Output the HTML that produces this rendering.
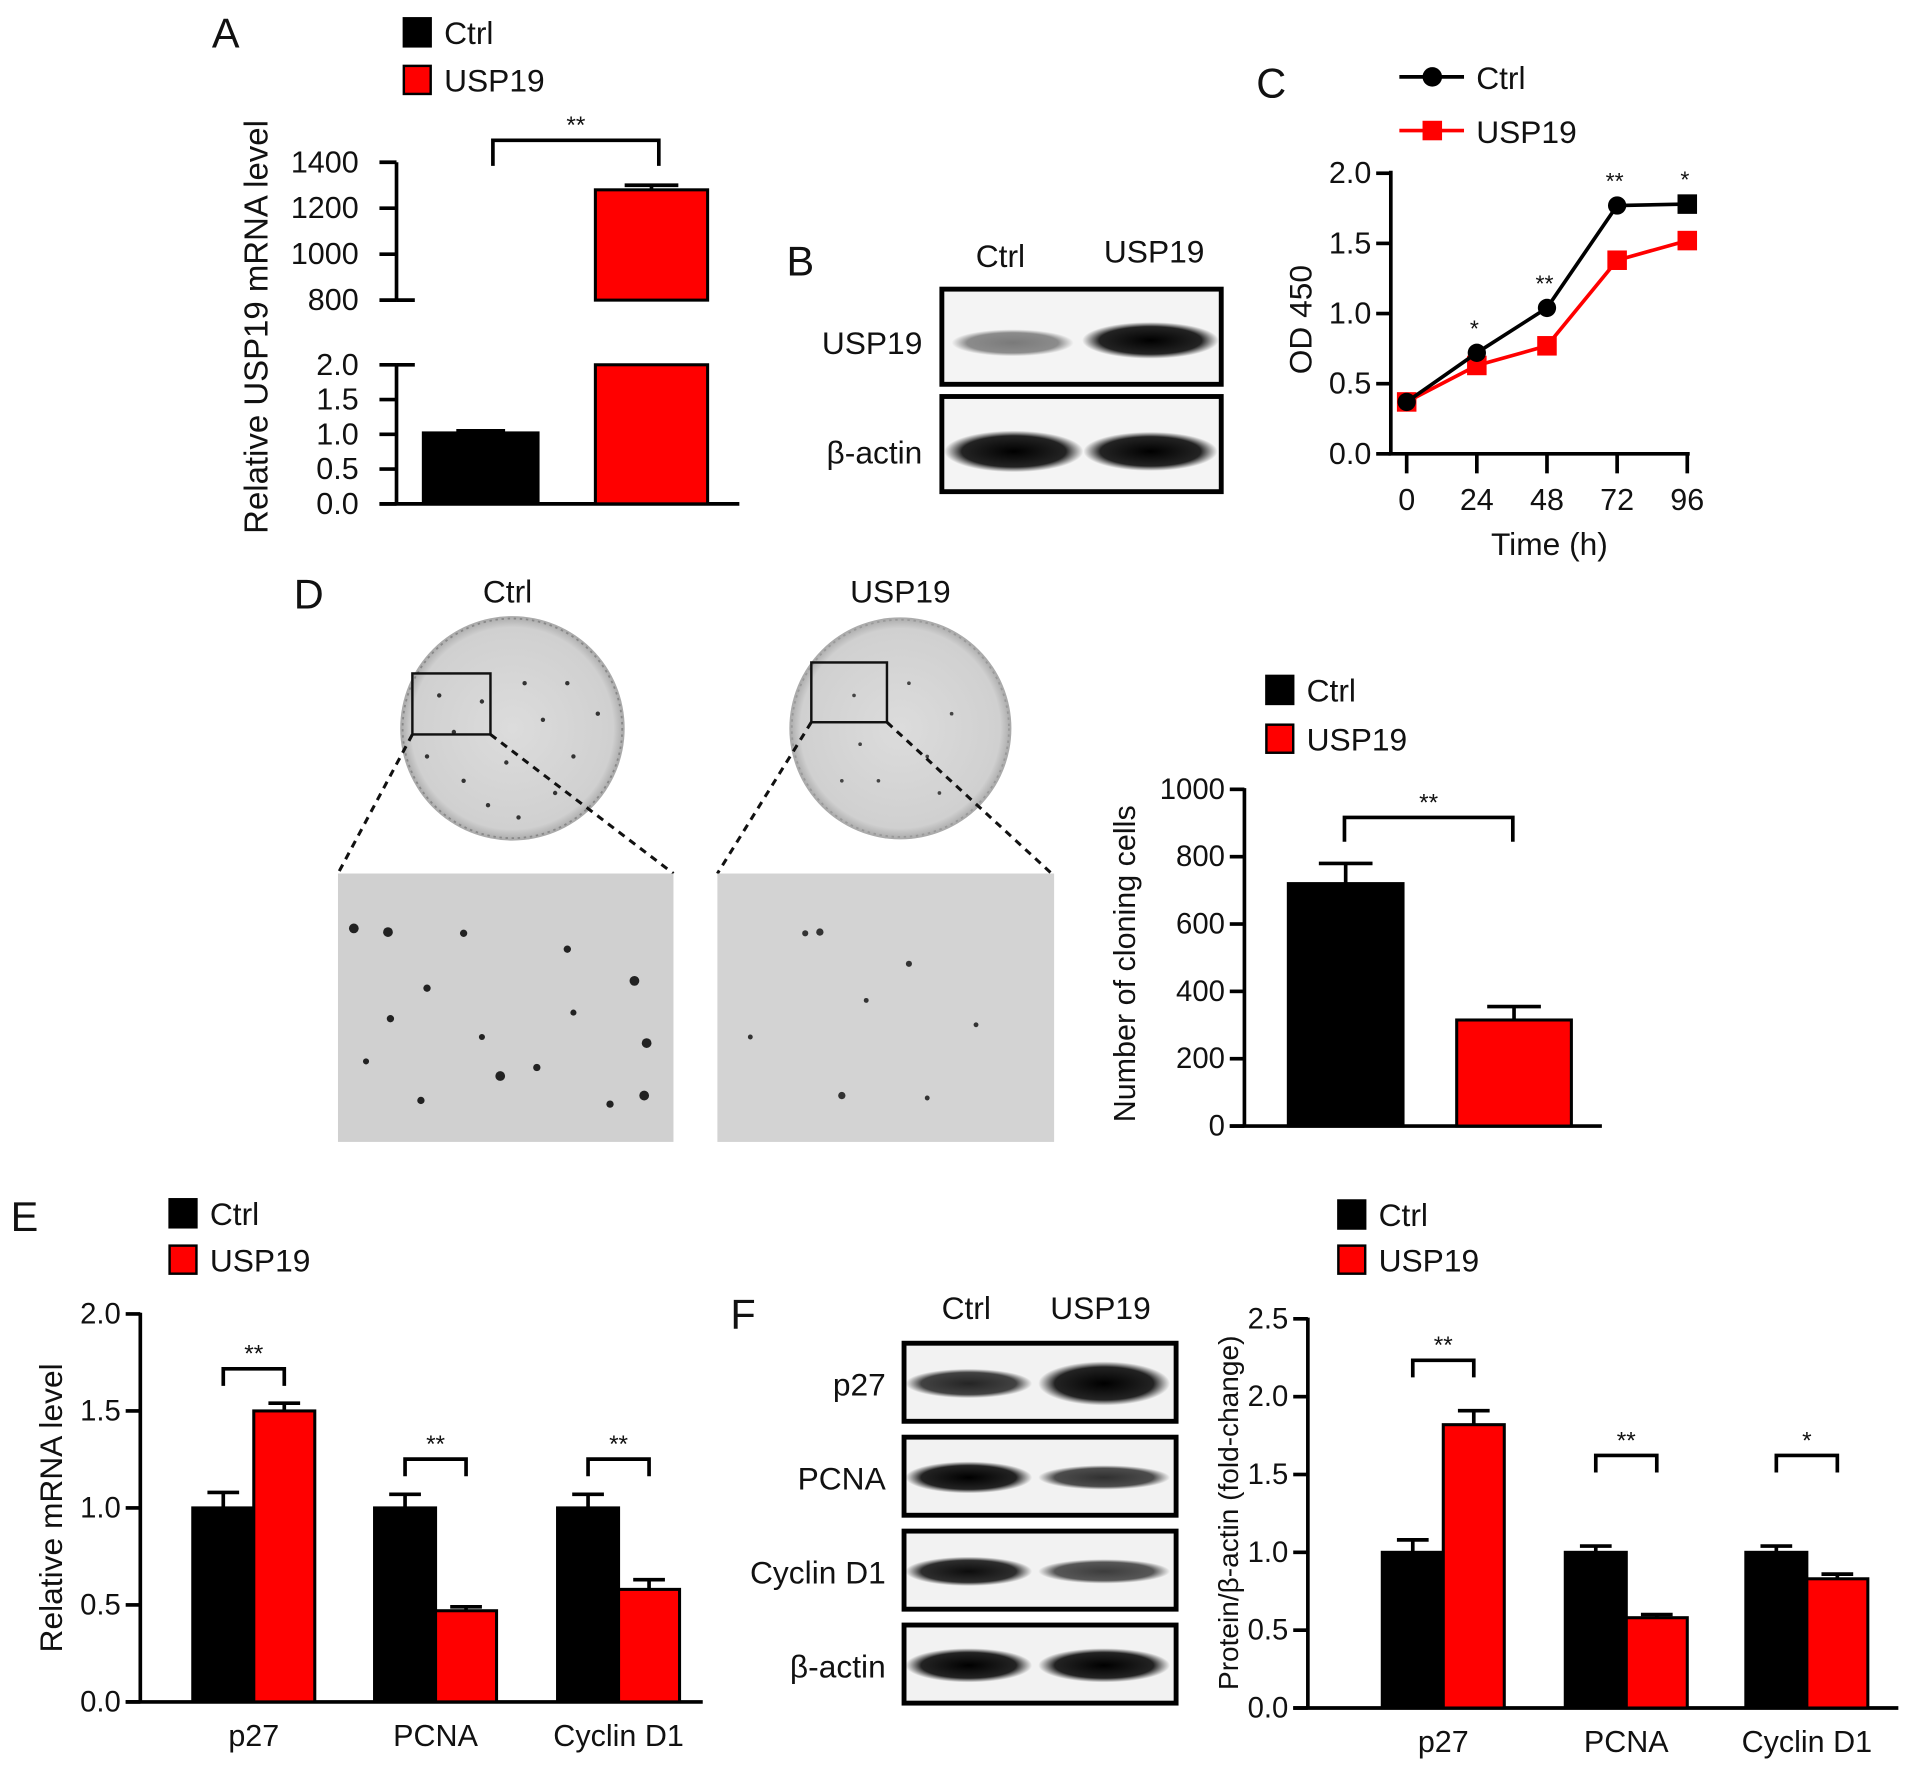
<!DOCTYPE html>
<html><head><meta charset="utf-8"><style>
html,body{margin:0;padding:0;background:#fff}
svg{display:block}
text{font-family:"Liberation Sans",Arial,sans-serif;fill:#111}
</style></head><body>
<svg id="fig" width="1913" height="1769" viewBox="0 0 1568 1450">
<defs>
<radialGradient id="band" cx="50%" cy="50%" r="50%"><stop offset="0" stop-color="#000" stop-opacity="1"/><stop offset="0.75" stop-color="#111" stop-opacity="0.92"/><stop offset="1" stop-color="#222" stop-opacity="0"/></radialGradient>
<radialGradient id="plate" cx="50%" cy="50%" r="50%"><stop offset="0" stop-color="#dcdcdc"/><stop offset="0.9" stop-color="#d0d0d0"/><stop offset="1" stop-color="#a8a8a8"/></radialGradient>
</defs>
<g id="root"></g>
</svg>
<script>
// ---- Panel A data ----
const aCategories = ["Ctrl", "USP19"];
const aValues = [1.02, 1280];
const aErrors = [1.05, 1300];
const aLowTicks = [0, 0.5, 1.0, 1.5, 2.0];
const aHighTicks = [800, 1000, 1200, 1400];
// ---- Panel C data ----
const cTimes = [0, 24, 48, 72, 96];
const cCtrl = [0.37, 0.72, 1.04, 1.77, 1.78];
const cUsp = [0.37, 0.63, 0.77, 1.38, 1.52];
const cStars = ["", "*", "**", "**", "*"];
const cYTicks = [0, 0.5, 1.0, 1.5, 2.0];
// ---- Panel D data ----
const dCategories = ["Ctrl", "USP19"];
const dValues = [720, 315];
const dErrors = [780, 355];
const dTicks = [0, 200, 400, 600, 800, 1000];
// ---- Panel E data ----
const eGroups = ["p27", "PCNA", "Cyclin D1"];
const eCtrl = [1.0, 1.0, 1.0];
const eCtrlErr = [1.08, 1.07, 1.07];
const eUsp = [1.5, 0.47, 0.58];
const eUspErr = [1.54, 0.49, 0.63];
const eStars = ["**", "**", "**"];
const eTicks = [0, 0.5, 1.0, 1.5, 2.0];
// ---- Panel F data ----
const fGroups = ["p27", "PCNA", "Cyclin D1"];
const fCtrl = [1.0, 1.0, 1.0];
const fCtrlErr = [1.08, 1.04, 1.04];
const fUsp = [1.82, 0.58, 0.83];
const fUspErr = [1.91, 0.6, 0.86];
const fStars = ["**", "**", "*"];
const fTicks = [0, 0.5, 1.0, 1.5, 2.0, 2.5];

const NS = "http://www.w3.org/2000/svg";
const root = document.getElementById("root");
function el(tag, attrs, parent, txt) {
  const e = document.createElementNS(NS, tag);
  for (const k in attrs) e.setAttribute(k, attrs[k]);
  if (txt !== undefined) e.textContent = txt;
  (parent || root).appendChild(e);
  return e;
}
function grp(name) {
  const g = el("g", {});
  
  
  return g;
}
function txt(g, x, y, s, size, anchor, name, extra) {
  const t = el("text", Object.assign({x: x, y: y, "font-size": size, "text-anchor": anchor || "start", "dominant-baseline": "central"}, extra || {}), g, s);
  
  
  return t;
}
function line(g, x1, y1, x2, y2, w, col) {
  return el("line", {x1: x1, y1: y1, x2: x2, y2: y2, stroke: col || "#000", "stroke-width": w || 3}, g);
}
function legendBox(g, x, y, color, label, size) {
  const r = el("rect", {x: x, y: y, width: 22, height: 23, fill: color, stroke: "#000", "stroke-width": 2}, g);
  
  
  txt(g, x + 33, y + 12, label, size || 26, "start", 'legend-label-' + label.toLowerCase());
}
function bracket(g, x1, x2, y, leg, stars) {
  el("path", {d: `M${x1},${y + leg} V${y} H${x2} V${y + leg}`, fill: "none", stroke: "#000", "stroke-width": 3}, g);
  txt(g, (x1 + x2) / 2, y - 12, stars, 20, "middle", 'significance-stars');
}
function bar(g, x, w, y0, y1, color, name) {
  const r = el("rect", {x: x, y: Math.min(y0, y1), width: w, height: Math.abs(y0 - y1), fill: color, stroke: "#000", "stroke-width": 2.5}, g);
  
  
  return r;
}
function errBar(g, cx, yTop, yVal, half) {
  line(g, cx, yVal, cx, yTop, 3);
  line(g, cx - half, yTop, cx + half, yTop, 3);
}

// ================= Panel A =================
(function () {
  const g = grp("panel-a");
  txt(g, 185, 27, "A", 34, "middle", "panel-label-a");
  legendBox(g, 331, 15, "#000", "Ctrl", 26);
  legendBox(g, 331, 54, "#f00", "USP19", 26);
  const axX = 325;
  const yLow = v => 413 - (v / 2.0) * (413 - 299);
  const yHigh = v => 246 - ((v - 800) / 600) * (246 - 133);
  line(g, axX, 299, axX, 413);
  line(g, axX, 133, axX, 246);
  aLowTicks.forEach(v => { line(g, 311, yLow(v), axX, yLow(v)); txt(g, 294, yLow(v), v.toFixed(1), 25, "end", "y-tick-label"); });
  line(g, axX, 299, 340, 299);
  aHighTicks.forEach(v => { line(g, 311, yHigh(v), axX, yHigh(v)); txt(g, 294, yHigh(v), String(v), 25, "end", "y-tick-label"); });
  line(g, axX, 246, 340, 246);
  line(g, 311, 413, 606, 413);
  txt(g, 210, 268, "Relative USP19 mRNA level", 27, "middle", "y-axis-title", {transform: "rotate(-90 210 268)"});
  bar(g, 347, 94, 413, yLow(aValues[0]), "#000", "bar-ctrl");
  errBar(g, 394, yLow(aErrors[0]), yLow(aValues[0]), 20);
  bar(g, 488, 92, 413, 299, "#f00", "bar-usp19-lower");
  errBar(g, 534, yHigh(aErrors[1]), yHigh(aValues[1]), 22);
  bar(g, 488, 92, 246, yHigh(aValues[1]), "#f00", "bar-usp19-upper");
  bracket(g, 404, 540, 115, 21, "**");
})();

// ================= Panel B =================
(function () {
  const g = grp("panel-b-western-blot");
  txt(g, 656, 214, "B", 34, "middle", "panel-label-b");
  txt(g, 820, 210, "Ctrl", 26, "middle", "lane-label-ctrl");
  txt(g, 946, 206, "USP19", 26, "middle", "lane-label-usp19");
  txt(g, 756, 281, "USP19", 26, "end", "blot-label-usp19");
  txt(g, 756, 371, "β-actin", 26, "end", "blot-label-actin");
  el("rect", {x: 772, y: 237, width: 229, height: 78, fill: "#f4f4f4", stroke: "#000", "stroke-width": 4}, g);
  el("rect", {x: 772, y: 325, width: 229, height: 78, fill: "#f4f4f4", stroke: "#000", "stroke-width": 4}, g);
  el("ellipse", {cx: 830, cy: 281, rx: 50, ry: 11, fill: "url(#band)", opacity: 0.5}, g);
  el("ellipse", {cx: 943, cy: 279, rx: 56, ry: 15, fill: "url(#band)"}, g);
  el("ellipse", {cx: 831, cy: 370, rx: 57, ry: 17, fill: "url(#band)"}, g);
  el("ellipse", {cx: 943, cy: 370, rx: 55, ry: 16, fill: "url(#band)"}, g);
})();

// ================= Panel C =================
(function () {
  const g = grp("panel-c-line-chart");
  txt(g, 1042, 68, "C", 34, "middle", "panel-label-c");
  line(g, 1147, 63, 1200, 63, 3);
  el("circle", {cx: 1174, cy: 63, r: 8, fill: "#000"}, g);
  txt(g, 1210, 64, "Ctrl", 26, "start", "legend-label-ctrl");
  line(g, 1147, 107, 1200, 107, 3, "#f00");
  el("rect", {x: 1166, y: 99, width: 16, height: 16, fill: "#f00"}, g);
  txt(g, 1210, 108, "USP19", 26, "start", "legend-label-usp19");
  const x = t => 1153 + (t / 96) * (1383 - 1153);
  const y = v => 372 - (v / 2) * (372 - 142);
  line(g, 1140, 140, 1140, 372);
  line(g, 1138, 372, 1385, 372);
  cYTicks.forEach(v => { line(g, 1128, y(v), 1140, y(v)); txt(g, 1124, y(v), v.toFixed(1), 25, "end", "y-tick-label"); });
  cTimes.forEach(t => { line(g, x(t), 372, x(t), 388); txt(g, x(t), 410, String(t), 25, "middle", "x-tick-label"); });
  txt(g, 1270, 446, "Time (h)", 26, "middle", "x-axis-title");
  txt(g, 1066, 262, "OD 450", 26, "middle", "y-axis-title", {transform: "rotate(-90 1066 262)"});
  const uPts = cTimes.map((t, i) => x(t) + "," + y(cUsp[i])).join(" ");
  const up = el("polyline", {points: uPts, fill: "none", stroke: "#f00", "stroke-width": 3}, g);
  
  
  cTimes.forEach((t, i) => {
    const m = el("rect", {x: x(t) - 8, y: y(cUsp[i]) - 8, width: 16, height: 16, fill: "#f00"}, g);
    
    
  });
  const cPts = cTimes.map((t, i) => x(t) + "," + y(cCtrl[i])).join(" ");
  const cp = el("polyline", {points: cPts, fill: "none", stroke: "#000", "stroke-width": 3}, g);
  
  
  cTimes.forEach((t, i) => {
    const m = el("circle", {cx: x(t), cy: y(cCtrl[i]), r: 7.5, fill: "#000"}, g);
    
    
    if (cStars[i]) txt(g, x(t) - 2, y(cCtrl[i]) - 20, cStars[i], 19, "middle", "significance-stars");
  });
  el("rect", {x: x(96) - 8, y: y(cCtrl[4]) - 8, width: 16, height: 16, fill: "#000"}, g);
})();

// ================= Panel D images =================
(function () {
  const g = grp("panel-d-colony-images");
  txt(g, 253, 487, "D", 34, "middle", "panel-label-d");
  txt(g, 416, 485, "Ctrl", 26, "middle", "image-label-ctrl");
  txt(g, 738, 485, "USP19", 26, "middle", "image-label-usp19");
  el("circle", {cx: 420, cy: 597, r: 92, fill: "url(#plate)"}, g);
  el("circle", {cx: 738, cy: 597, r: 91, fill: "url(#plate)"}, g);
  el("circle", {cx: 420, cy: 597, r: 90, fill: "none", stroke: "#888", "stroke-width": 1.5, "stroke-dasharray": "2,3"}, g);
  el("circle", {cx: 738, cy: 597, r: 89, fill: "none", stroke: "#999", "stroke-width": 1.5, "stroke-dasharray": "2,3"}, g);
  const dotsA = [[360,570],[380,640],[445,590],[470,620],[400,660],[430,560],[455,650],[372,600],[490,585],[415,625],[350,620],[465,560],[395,575],[425,670]];
  dotsA.forEach(d => el("circle", {cx: d[0], cy: d[1], r: 1.8, fill: "#333"}, g));
  const dotsB = [[700,570],[760,620],[720,640],[780,585],[745,560],[705,610],[690,640],[770,650]];
  dotsB.forEach(d => el("circle", {cx: d[0], cy: d[1], r: 1.5, fill: "#444"}, g));
  el("rect", {x: 338, y: 552, width: 64, height: 50, fill: "none", stroke: "#111", "stroke-width": 2}, g);
  el("rect", {x: 665, y: 543, width: 62, height: 49, fill: "none", stroke: "#111", "stroke-width": 2}, g);
  const dash = {stroke: "#111", "stroke-width": 2.5, "stroke-dasharray": "6,5"};
  el("line", Object.assign({x1: 338, y1: 602, x2: 277, y2: 716}, dash), g);
  el("line", Object.assign({x1: 402, y1: 602, x2: 552, y2: 716}, dash), g);
  el("line", Object.assign({x1: 665, y1: 592, x2: 588, y2: 716}, dash), g);
  el("line", Object.assign({x1: 727, y1: 592, x2: 862, y2: 716}, dash), g);
  el("rect", {x: 277, y: 716, width: 275, height: 220, fill: "#d0d0d0"}, g);
  el("rect", {x: 588, y: 716, width: 276, height: 220, fill: "#d3d3d3"}, g);
  const zA = [[290,761,4],[318,764,4],[320,835,3],[350,810,3],[410,882,4],[440,875,3],[520,804,4],[530,855,4],[465,778,3],[380,765,3],[345,902,3],[500,905,3],[470,830,2.5],[395,850,2.5],[300,870,2.5],[528,898,4]];
  zA.forEach(d => el("circle", {cx: d[0], cy: d[1], r: d[2], fill: "#222"}, g));
  const zB = [[672,764,3],[660,765,2.5],[745,790,2.5],[710,820,2],[690,898,3],[615,850,2],[800,840,2],[760,900,2]];
  zB.forEach(d => el("circle", {cx: d[0], cy: d[1], r: d[2], fill: "#333"}, g));
})();

// ================= Panel D bar chart =================
(function () {
  const g = grp("panel-d-bar-chart");
  legendBox(g, 1038, 554, "#000", "Ctrl", 26);
  legendBox(g, 1038, 594, "#f00", "USP19", 26);
  const y = v => 923 - (v / 1000) * (923 - 647);
  line(g, 1020, 646, 1020, 923);
  line(g, 1008, 923, 1313, 923);
  dTicks.forEach(v => { line(g, 1008, y(v), 1020, y(v)); txt(g, 1004, y(v), String(v), 24, "end", "y-tick-label"); });
  txt(g, 922, 790, "Number of cloning cells", 25, "middle", "y-axis-title", {transform: "rotate(-90 922 790)"});
  const xs = [1056, 1194];
  const cols = ["#000", "#f00"];
  dCategories.forEach((c, i) => {
    errBar(g, xs[i] + 47, y(dErrors[i]), y(dValues[i]), 22);
    bar(g, xs[i], 94, 923, y(dValues[i]), cols[i], "bar-" + c.toLowerCase());
  });
  bracket(g, 1102, 1240, 670, 20, "**");
})();

function grouped(g, axX, y0, yTop, maxV, baseEnd, centers, groups, ctrl, ctrlE, usp, uspE, stars, ticks, brY) {
  const y = v => y0 - (v / maxV) * (y0 - yTop);
  line(g, axX, yTop - 1, axX, y0);
  line(g, axX - 12, y0, baseEnd, y0);
  ticks.forEach(v => { line(g, axX - 12, y(v), axX, y(v)); txt(g, axX - 16, y(v), v.toFixed(1), 24, "end", "y-tick-label"); });
  groups.forEach((name, i) => {
    const c = centers[i];
    errBar(g, c - 25, y(ctrlE[i]), y(ctrl[i]), 13);
    bar(g, c - 50, 50, y0, y(ctrl[i]), "#000", "bar-ctrl-" + name.toLowerCase().replace(/\s/g, "-"));
    errBar(g, c + 25, y(uspE[i]), y(usp[i]), 13);
    bar(g, c, 50, y0, y(usp[i]), "#f00", "bar-usp19-" + name.toLowerCase().replace(/\s/g, "-"));
    txt(g, c, y0 + 28, name, 25, "middle", "x-tick-label");
    bracket(g, c - 25, c + 25, brY[i], 14, stars[i]);
  });
}

// ================= Panel E =================
(function () {
  const g = grp("panel-e-bar-chart");
  txt(g, 20, 997, "E", 34, "middle", "panel-label-e");
  legendBox(g, 139, 983, "#000", "Ctrl", 26);
  legendBox(g, 139, 1021, "#f00", "USP19", 26);
  grouped(g, 115, 1395, 1077, 2.0, 576, [208, 357, 507], eGroups, eCtrl, eCtrlErr, eUsp, eUspErr, eStars, eTicks, [1122, 1196, 1196]);
  txt(g, 42, 1236, "Relative mRNA level", 26, "middle", "y-axis-title", {transform: "rotate(-90 42 1236)"});
})();

// ================= Panel F blot =================
(function () {
  const g = grp("panel-f-western-blot");
  txt(g, 609, 1077, "F", 34, "middle", "panel-label-f");
  txt(g, 792, 1072, "Ctrl", 26, "middle", "lane-label-ctrl");
  txt(g, 902, 1072, "USP19", 26, "middle", "lane-label-usp19");
  const rows = ["p27", "PCNA", "Cyclin D1", "β-actin"];
  const tops = [1101, 1178, 1255, 1332];
  const ctrlBand = [[12, 0.85], [13, 1], [12, 0.95], [14, 1]];
  const uspBand = [[18, 1], [10, 0.8], [10, 0.75], [14, 1]];
  rows.forEach((r, i) => {
    const t = tops[i];
    el("rect", {x: 741, y: t, width: 223, height: 64, fill: "#f2f2f2", stroke: "#000", "stroke-width": 4}, g);
    el("ellipse", {cx: 794, cy: t + 33, rx: 52, ry: ctrlBand[i][0], fill: "url(#band)", opacity: ctrlBand[i][1]}, g);
    el("ellipse", {cx: 905, cy: t + 33, rx: 54, ry: uspBand[i][0], fill: "url(#band)", opacity: uspBand[i][1]}, g);
    txt(g, 726, t + 34, r, 26, "end", "blot-label-" + r.toLowerCase().replace(/\s/g, "-"));
  });
})();

// ================= Panel F bar chart =================
(function () {
  const g = grp("panel-f-bar-chart");
  legendBox(g, 1097, 984, "#000", "Ctrl", 26);
  legendBox(g, 1097, 1021, "#f00", "USP19", 26);
  grouped(g, 1072, 1400, 1081, 2.5, 1556, [1183, 1333, 1481], fGroups, fCtrl, fCtrlErr, fUsp, fUspErr, fStars, fTicks, [1115, 1193, 1193]);
  txt(g, 1007, 1240, "Protein/β-actin (fold-change)", 23, "middle", "y-axis-title", {transform: "rotate(-90 1007 1240)"});
})();
</script>
</body></html>
